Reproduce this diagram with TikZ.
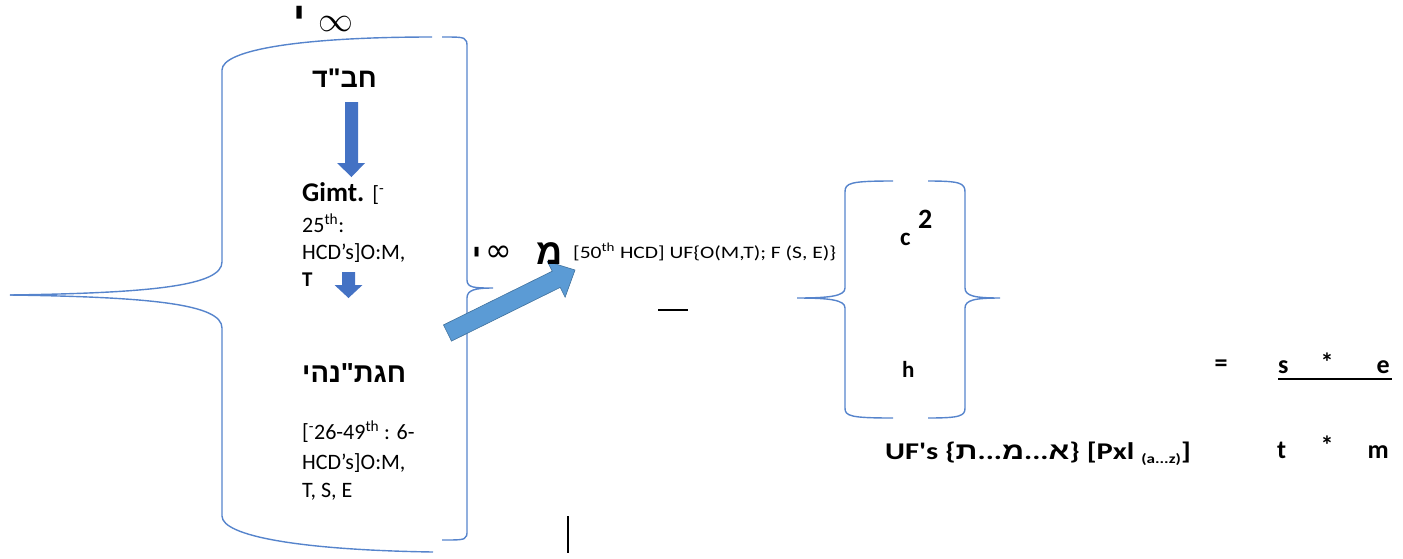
\documentclass[tikz,border=0pt]{standalone}
\usepackage{fontspec}
\setmainfont{Carlito}
\newfontfamily\heb[Script=Hebrew]{Liberation Sans}
\newfontfamily\dejavu{DejaVu Sans}
\TeXXeTstate=1
\newcommand\myfs[1]{\fontsize{#1}{#1}\selectfont}
\definecolor{bracecol}{RGB}{86,132,204}
\definecolor{arrowdark}{RGB}{68,114,196}
\definecolor{arrowlight}{RGB}{91,155,213}
\definecolor{arrowedge}{RGB}{65,113,156}
\begin{document}
\begin{tikzpicture}[x=1pt,y=-1pt,
  brace/.style={draw=bracecol, line width=1.4pt},
  lbl/.style={inner sep=0pt, anchor=base west, text=black},
  lblr/.style={inner sep=0pt, anchor=base east, text=black},
  ctr/.style={inner sep=0pt, anchor=center, text=black},
  darrow/.style={fill=arrowdark, draw=none},
  larrow/.style={fill=arrowlight, draw=arrowedge, line width=0.6pt}]
\useasboundingbox (0,0) rectangle (1403,558);

% left big brace
\draw[brace] (10,295) .. controls (150,293) and (222,286) .. (222,262)
  -- (222,70) .. controls (222,50) and (300,37) .. (432,37);
\draw[brace] (10,295) .. controls (150,297) and (222,304) .. (222,328)
  -- (222,516) .. controls (222,536) and (300,550) .. (433,552);
% right brace of the left group
\draw[brace] (442,37) .. controls (467,37) .. (467,48) -- (467,280)
  .. controls (467,288) and (475,288) .. (493,288)
  .. controls (475,288) and (467,290) .. (467,298) -- (467,530)
  .. controls (467,540) .. (442,540);

% middle braces
\draw[brace] (893,181) .. controls (850,181) and (845,183) .. (845,192) -- (845,288)
  .. controls (845,296) and (830,298) .. (797,298)
  .. controls (830,298) and (845,300) .. (845,308) -- (845,408)
  .. controls (845,416) and (850,418) .. (893,418);
\draw[brace] (928,181) .. controls (960,181) and (965,183) .. (965,192) -- (965,288)
  .. controls (965,296) and (975,298) .. (1000,298)
  .. controls (975,298) and (965,300) .. (965,308) -- (965,408)
  .. controls (965,416) and (960,418) .. (928,418);

% block arrows
\fill[darrow] (345,102) -- (358,102) -- (358,163) -- (365,163) -- (351.5,177) -- (337,163) -- (345,163) -- cycle;
\fill[darrow] (342,272) -- (355,272) -- (355,285) -- (362.5,285) -- (348.5,298) -- (334.5,285) -- (342,285) -- cycle;
\draw[larrow] (451.5,341.1) -- (560.2,287.4) -- (565.1,297.2) -- (575,270) -- (547.3,261.4) -- (552.2,271.2) -- (443.5,324.9) -- cycle;

% top label
\node[lbl] (topyod) at (293,30) {\heb\bfseries\myfs{40}י};
\node[lbl] (topinf) at (318,31) {\myfs{24}\scalebox{1.4}{$\infty$}};

% left group texts
\node[lbl] (chabad) at (312,87) {\heb\bfseries\myfs{27}\beginR חב"ד\endR};
\node[lbl] (gimt) at (302,201) {\bfseries\myfs{27}Gimt. {\mdseries\myfs{22}[\textsuperscript{-}}};
\node[lbl] (g2) at (302,232) {\myfs{22}25\textsuperscript{th}:};
\node[lbl] (g3) at (302,259) {\myfs{22}HCD’s]O:M,};
\node[lbl] (g4) at (302,286) {\bfseries\myfs{21}T};
\node[lbl] (chagat) at (302,382) {\heb\bfseries\myfs{27.5}\beginR חגת"נהי\endR};
\node[lbl] (c2) at (302,439) {\myfs{22}[\textsuperscript{-}26-49\textsuperscript{th} : 6-};
\node[lbl] (c3) at (302,469) {\myfs{22}HCD’s]O:M,};
\node[lbl] (c4) at (302,497) {\myfs{22}T, S, E};

% middle label
\node[lbl] (midyod) at (472,265) {\heb\bfseries\myfs{30}י};
\node[lbl] (midinf) at (485,261) {\dejavu\myfs{32}∞};
\node[lbl] (mem) at (536,264) {\heb\bfseries\myfs{36}מ};
\node[lbl] (fifty) at (573,258) {\scalebox{1.23}[1]{\myfs{17.5}[50\textsuperscript{th} HCD] UF\{O(M,T); F (S, E)\}}};

% dashes
\draw[line width=1.3pt] (658,310) -- (688,310);
\draw[line width=1.6pt] (568,516) -- (568,553);

% c^2 / h
\node[lbl] (c) at (900,245) {\bfseries\myfs{25}c};
\node[lbl] (two) at (918,228) {\bfseries\myfs{28}2};
\node[lbl] (h) at (902,377) {\bfseries\myfs{23}h};

% UF's line
\node[lbl] (ufs) at (885,459) {\scalebox{1.27}[1]{\bfseries\myfs{24}UF\textquotesingle s \{{\heb ת}...{\heb מ}...{\heb א}\} [Pxl \raisebox{-4pt}{\myfs{13.5}(a...z)}]}};

% equation
\node[ctr] (eq) at (1221,366) {\bfseries\myfs{26}=};
\node[lbl] (s) at (1278,373) {\bfseries\myfs{26}s};
\node[ctr] (st1) at (1327,362) {\bfseries\myfs{26}*};
\node[lblr] (e) at (1390,373) {\bfseries\myfs{26}e};
\draw[line width=1.3pt] (1278,379) -- (1392,379);
\node[lbl] (t) at (1277,458) {\bfseries\myfs{26}t};
\node[ctr] (st2) at (1327,445) {\bfseries\myfs{26}*};
\node[lblr] (m) at (1389,458) {\bfseries\myfs{26}m};
\end{tikzpicture}
\end{document}
